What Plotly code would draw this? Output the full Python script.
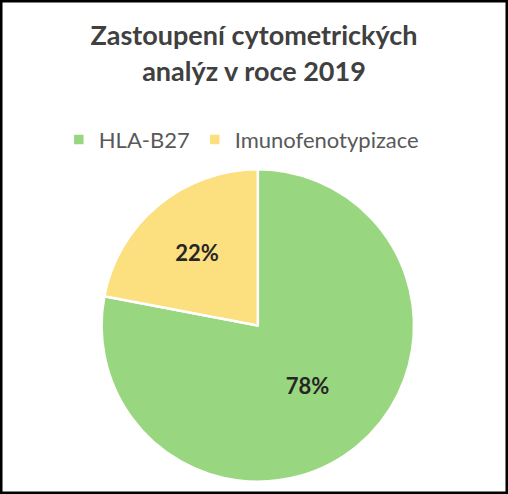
import plotly.graph_objects as go

labels = ["HLA-B27", "Imunofenotypizace"]
values = [78, 22]
colors = ["#98D67F", "#FCDF7F"]

fig = go.Figure(go.Pie(
    labels=labels,
    values=values,
    sort=False,
    direction="clockwise",
    rotation=0,
    marker=dict(colors=colors, line=dict(color="white", width=2.5)),
    texttemplate="%{percent:.0%}",
    textposition="inside",
    insidetextorientation="horizontal",
    textfont=dict(family="Lato", size=22, color="#262626", weight="bold"),
    domain=dict(x=[0.2, 0.815], y=[0.024, 0.658]),
))

fig.update_layout(
    width=508, height=494,
    margin=dict(l=0, r=0, t=0, b=0),
    paper_bgcolor="white",
    title=dict(
        text="<b>Zastoupení cytometrických<br>analýz v roce 2019</b>",
        x=0.5, xanchor="center", y=0.908, yanchor="top",
        font=dict(family="Lato", size=27, color="#404040"),
    ),
    legend=dict(
        orientation="h", x=0.475, xanchor="center", y=0.717, yanchor="middle",
        font=dict(family="Lato", size=22, color="#595959"),
        traceorder="normal",
    ),
    shapes=[dict(type="rect", xref="paper", yref="paper", x0=0, x1=1, y0=0, y1=1,
                 line=dict(color="black", width=5))],
)

fig.write_html("out.html", config={"displayModeBar": False},
               post_script="document.body.style.margin='0';")
